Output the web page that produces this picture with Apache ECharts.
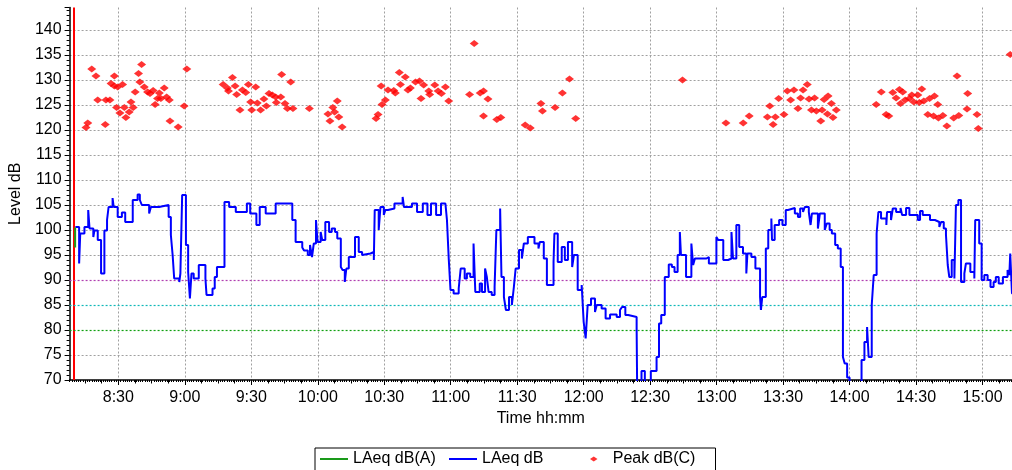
<!DOCTYPE html>
<html>
<head>
<meta charset="utf-8">
<script src="https://cdn.jsdelivr.net/npm/echarts@6/dist/echarts.min.js"></script>
<style>
  html, body { margin: 0; padding: 0; background: #fff; }
  #chart { width: 1012px; height: 470px; }
</style>
</head>
<body>
<div id="chart"></div>
<script>
// Sound level log. Times are minutes after 08:00, levels in dB.
const timeTicks = ['8:30', '9:00', '9:30', '10:00', '10:30', '11:00', '11:30',
  '12:00', '12:30', '13:00', '13:30', '14:00', '14:30', '15:00'];

// Limit levels marked across the plot
const limitLevels = [80, 85, 90];
const limitColors = ['#10a010', '#10b8b8', '#b040b0'];

// Cursor position at the start of the log
const cursorTime = 10.1;

// LAeq dB(A): only the first sample is visible
const laeqA = [[10.5, 96.5], [10.5, 100.5]];

// LAeq dB: each pair is [start minute, level held until next pair]
const laeq = [
  [10.6,100.6],[12.3,93.3],[12.8,99.3],[14.7,100.6],[16.4,104],[17.0,100.3],[18.7,98.6],[19.2,99.9],
  [20.7,98],[22.2,91.3],[23.7,99.9],[24.9,102],[25.6,104.6],[27.4,106.4],[27.9,104.6],[29.7,102.6],
  [31.6,103.5],[33.1,101.6],[36.5,106],[38.7,107.1],[39.7,106],[40.6,105],[43.9,103.3],[44.7,104.6],
  [48.4,105],[52.7,102.6],[53.7,99],[54.5,95],[55.2,90.3],[57.5,89.6],[58.0,91.3],[58.8,107],
  [60.5,97],[61.5,91.6],[62.3,86.3],[63.0,91.3],[64.0,90.3],[66.3,93],[69.3,90.3],[69.8,87],
  [72.5,88.3],[73.5,90.6],[74.5,92.6],[77.9,105.6],[80.0,104.6],[83.0,103.6],[88.0,105.3],[89.5,103.3],
  [92.3,101],[93.8,104.6],[96.5,103.3],[101.0,105.3],[108.5,102],[110.0,97.6],[113.0,96.5],[113.8,95.9],
  [115.5,95],[116.5,97],[117.4,94.6],[118.2,97.3],[119.2,102],[119.9,97.6],[121.3,99.6],[122.0,98],
  [123.4,101.6],[125.1,99.6],[126.3,100.3],[127.8,99.6],[128.8,98.3],[130.4,92.6],[131.2,92],[132.2,89.6],
  [132.9,92.3],[134.0,94.6],[136.8,98.6],[138.5,95.6],[140.0,95],[140.8,95.3],[143.8,95.6],[145.3,94],
  [145.7,104],[147.5,100],[148.3,104.6],[149.8,103],[150.5,104],[151.7,104.3],[154.6,105.3],[158.3,106.6],
  [158.9,104.6],[162.5,105.3],[164.8,103.6],[167.4,105.3],[169.5,103],[171.1,105.3],[173.4,103],[175.6,105.3],
  [177.6,105.6],[178.3,102],[179.1,94.3],[179.9,88],[181.3,87.3],[183.6,88.3],[184.5,92.3],[186.3,90.3],
  [187.3,91.3],[188.8,90.6],[190.3,97.3],[191.1,87.6],[193.1,89.3],[194.1,87.6],[195.5,92.3],[196.3,90.6],
  [197.1,87.6],[198.5,87],[199.8,88.6],[200.6,100],[202.3,104.3],[202.9,90.6],[204.0,86.6],[204.9,84],
  [206.3,86.6],[207.6,85],[208.5,88.6],[209.3,92.3],[210.8,96],[212.1,94.3],[213.0,97.3],[214.8,98.6],
  [217.8,97.3],[219.6,96.3],[220.2,97.6],[222.0,94.3],[223.4,89],[226.4,93.6],[226.8,99.3],[228.3,93.6],
  [230.1,96.6],[231.5,94],[232.9,97.6],[234.8,92.6],[235.6,95],[237.3,88],[239.1,89],[240.0,81.6],
  [240.9,78.3],[241.8,85],[243.3,86.3],[245.1,83.6],[245.9,85],[248.1,84.3],[249.9,82.3],[251.9,83.1],
  [254.9,82.6],[256.4,84],[257.3,84.6],[258.8,83],[260.1,82.6],[263.9,80.3],[264.2,65],[266.1,71.8],
  [267.6,65],[270.3,71.8],[272.9,74.6],[274.0,81.3],[275.0,83],[276.6,90.6],[278.4,93.1],[279.8,92.6],
  [281.0,91.6],[282.4,95],[283.4,99.6],[283.9,95],[286.2,90.6],[288.6,97.3],[289.4,93],[290.2,94.3],
  [295.4,94.6],[296.5,93.3],[299.9,98.6],[300.7,98],[303.0,94],[305.2,94.3],[306.7,99.6],[307.4,94.3],
  [308.9,101],[310.2,96.6],[311.9,95.3],[313.4,91.3],[313.9,95.3],[315.7,94.6],[317.5,92.3],[319.6,86.6],
  [320.0,84],[320.6,86.6],[322.2,96.3],[323.3,100],[324.7,102.3],[325.0,98],[326.2,101],[328.2,102],
  [329.7,101],[331.2,104],[332.2,104.4],[335.3,103.3],[336.7,102.6],[337.7,104.3],[339.0,103.6],[339.8,104.6],
  [341.6,103.6],[342.4,101],[343.0,103.3],[345.7,100.3],[346.6,103.3],[348.8,100],[349.7,101.3],[351.0,100],
  [352.0,99.3],[353.5,97],[354.7,96.3],[356.0,92.6],[357.0,74.6],[357.8,73.3],[358.9,70.5],[360.0,65],
  [365.4,74],[366.7,77.6],[367.9,80.6],[368.6,74.6],[370.0,85],[370.9,91],[372.2,99.3],[373.0,103.6],
  [374.2,102.3],[376.6,101],[376.9,103.6],[378.7,102],[379.5,104.3],[381.0,103.6],[383.0,104.4],[383.7,103],
  [385.5,104.4],[387.0,103],[390.8,102],[391.8,103.8],[393.0,103],[396.3,102],[398.5,101.6],[400.5,100.6],
  [401.3,101.6],[402.5,100.3],[403.5,99],[404.3,93],[405.0,90.6],[406.1,94],[407.3,90.3],[408.0,105],
  [409.1,106],[410.3,89.6],[411.8,91.3],[412.5,93.3],[414.5,91.6],[416.3,90.3],[416.7,102],[418.5,97.3],
  [419.6,90],[420.8,91],[422.3,90],[423.6,88.6],[425.0,89.6],[426.0,90.6],[427.3,89.3],[429.2,90.6],
  [431.3,92],[432.1,91],[432.5,95.3],[433.3,87.3],[433.7,87.3]
];

// Peak dB(C) samples: [minute, level]
const peakC = [
  [15.4,120.5],[16.2,121.4],[18.0,132.2],[19.9,130.8],[20.7,126.0],[24.1,121.1],[24.4,126.0],[26.2,126.0],
  [26.7,129.3],[28.2,130.8],[28.2,128.8],[29.2,124.5],[29.7,128.6],[30.7,123.4],[31.9,129.1],[32.7,124.5],
  [33.4,122.5],[34.9,123.6],[35.7,125.6],[36.7,124.5],[37.6,127.6],[39.1,131.3],[39.7,129.6],[40.5,133.1],
  [41.7,128.6],[43.2,127.6],[44.3,127.3],[45.7,127.9],[46.6,125.1],[47.7,126.3],[48.5,127.4],[49.2,126.3],
  [50.7,128.4],[51.8,126.6],[53.0,126.0],[53.3,121.8],[57.0,120.6],[59.7,124.8],[60.9,132.2],
  [77.3,129.1],[79.2,128.4],[79.7,127.8],[81.5,130.5],[82.7,128.8],[83.4,127.1],[84.9,124.0],[86.0,128.0],
  [87.5,127.5],[88.7,129.1],[89.7,125.6],[90.2,124.0],[92.0,128.6],[92.7,125.4],[94.2,124.0],[95.7,126.2],
  [96.8,124.8],[98.0,127.3],[99.5,127.0],[101.0,126.6],[101.3,125.5],[103.3,126.6],[103.7,131.1],[105.2,125.3],
  [106.3,124.3],[107.8,129.6],[108.8,124.3],[116.2,124.3],
  [124.6,123.2],[125.5,121.8],[126.8,124.5],[127.6,123.6],[128.8,125.8],[129.5,122.6],[131.0,120.6],
  [146.3,122.3],[147.2,123.1],[148.6,128.8],[149.0,125.1],[150.5,126.0],[151.7,128.0],[154.3,127.9],[155.0,127.4],
  [156.8,131.5],[157.3,129.1],[159.5,130.6],[160.7,128.0],[161.8,128.4],[164.1,129.6],[165.9,129.8],[166.6,126.3],
  [167.8,129.0],[170.1,127.8],[170.5,127.1],[172.8,129.0],[174.3,127.8],[175.8,127.3],[177.6,128.6],[179.1,125.8],
  [188.5,127.1],[190.6,137.3],[193.3,127.4],[194.8,127.8],[194.8,122.8],[196.8,126.2],[200.8,122.1],[202.6,122.5],
  [213.6,121.0],[215.9,120.4],[220.7,125.3],[221.4,123.8],[227.1,124.5],[230.4,127.4],[233.6,130.2],[236.4,122.3],
  [284.6,130.0],
  [304.2,121.4],[312.0,121.4],[314.7,122.8],[322.9,122.6],[324.0,124.8],[325.5,121.1],[326.5,122.6],[328.0,126.3],
  [330.4,123.1],[331.9,127.8],[333.4,126.0],[334.9,128.0],[336.7,124.3],[337.9,126.4],[339.0,128.0],[340.9,129.1],
  [341.7,126.2],[342.8,124.0],[344.2,126.4],[345.0,123.8],[347.0,121.8],[347.6,124.0],[348.5,126.1],[350.0,123.2],
  [350.3,126.8],[351.8,125.3],[352.5,122.5],[354.0,124.0],
  [372.0,125.1],[374.3,127.6],[376.5,123.1],[377.7,122.8],[379.5,127.5],[381.0,126.4],[382.5,128.1],[383.0,125.3],
  [384.0,127.6],[385.1,126.0],[387.0,126.3],[388.1,127.0],[389.0,125.6],[390.8,127.0],[391.5,125.5],[392.6,128.2],
  [393.5,125.8],[395.3,123.1],[396.1,126.3],[397.9,122.8],[398.3,126.8],[399.8,125.1],[400.1,122.4],[402.1,122.9],
  [403.9,120.8],[407.0,122.4],[408.5,130.8],[409.3,122.9],[413.0,124.2],[413.3,127.3],[417.5,123.1],[418.1,120.3],
  [432.5,135.1]
];

const FONT = '"Liberation Sans", Arial, sans-serif';
const X_MIN = 8, X_MAX = 433.3;

function clockToMinutes(s) {
  const [h, m] = s.split(':').map(Number);
  return (h - 8) * 60 + m;
}
function minutesToClock(v) {
  const total = 480 + Math.round(v);
  const h = Math.floor(total / 60), m = total % 60;
  return h + ':' + (m < 10 ? '0' : '') + m;
}

const labelValues = timeTicks.map(clockToMinutes);
const quarterTicks = [];
for (let v = 15; v < X_MAX; v += 7.5) quarterTicks.push(v);

const grey = '#a0a0a0';
const gridDash = [2, 2];
// grey split lines everywhere except at the limit levels (75, 80, 85, 90, 95 ... 140)
const ySplitColors = [grey, 'rgba(0,0,0,0)', 'rgba(0,0,0,0)', 'rgba(0,0,0,0)',
  grey, grey, grey, grey, grey, grey, grey, grey, grey, grey];

const lineIcon = 'path://M0,0H28V2H0Z';
const legendText = { color: '#000', fontSize: 16, fontFamily: FONT };

const chart = echarts.init(document.getElementById('chart'), null, { renderer: 'canvas' });

chart.setOption({
  animation: false,
  backgroundColor: '#fff',
  textStyle: { fontFamily: FONT },
  grid: { left: 67, right: 0, top: 7.5, bottom: 90, containLabel: false },
  xAxis: [
    {
      type: 'value', position: 'bottom', min: X_MIN, max: X_MAX,
      name: 'Time hh:mm', nameLocation: 'middle', nameGap: 31,
      nameTextStyle: { color: '#000', fontSize: 16, fontFamily: FONT },
      axisLine: { show: true, lineStyle: { color: '#000', width: 1.5 } },
      axisTick: { show: true, customValues: labelValues, length: 5, lineStyle: { color: '#000' } },
      axisLabel: { customValues: labelValues, formatter: minutesToClock, color: '#000', fontSize: 16, fontFamily: FONT, margin: 10 },
      splitLine: { show: true, lineStyle: { color: grey, type: gridDash, width: 1 } }
    },
    {
      type: 'value', position: 'bottom', min: X_MIN, max: X_MAX, interval: 1,
      axisLine: { show: false },
      axisTick: { show: true, length: 2, lineStyle: { color: '#000' } },
      axisLabel: { show: false }, splitLine: { show: false }
    },
    {
      type: 'value', position: 'bottom', min: X_MIN, max: X_MAX,
      axisLine: { show: false },
      axisTick: { show: true, customValues: quarterTicks, length: 3.5, lineStyle: { color: '#000' } },
      axisLabel: { show: false }, splitLine: { show: false }
    }
  ],
  yAxis: {
    type: 'value', min: 70, max: 144.5, interval: 5,
    name: 'Level dB', nameLocation: 'middle', nameGap: 36,
    nameTextStyle: { color: '#000', fontSize: 16, fontFamily: FONT },
    axisLine: { show: true, lineStyle: { color: '#000', width: 1.5 } },
    axisTick: { show: true, length: 5, lineStyle: { color: '#000' } },
    minorTick: { show: true, splitNumber: 5, length: 3, lineStyle: { color: '#000' } },
    axisLabel: { color: '#000', fontSize: 16, fontFamily: FONT, margin: 8, showMaxLabel: false },
    splitLine: { show: true, showMinLine: false, showMaxLine: false,
      lineStyle: { color: ySplitColors, type: gridDash, width: 1 } }
  },
  legend: [
    { data: [{ name: 'LAeq dB(A)', icon: lineIcon }], left: 320, top: 451, padding: 0,
      itemWidth: 28, itemHeight: 12, textStyle: legendText },
    { data: [{ name: 'LAeq dB', icon: lineIcon }], left: 449, top: 451, padding: 0,
      itemWidth: 28, itemHeight: 12, textStyle: legendText },
    { data: [{ name: 'Peak dB(C)', icon: 'path://M0,2L3,0L6,2L3,4Z' }], left: 590, top: 451, padding: 0,
      itemWidth: 28, itemHeight: 5, textStyle: legendText }
  ],
  graphic: [
    { type: 'rect', left: 312.5, top: 445.5, shape: { width: 400.5, height: 40 },
      style: { fill: 'none', stroke: '#000', lineWidth: 1 }, silent: true }
  ],
  series: [
    {
      name: 'LAeq dB', type: 'line', data: laeq, step: 'end', symbol: 'none', showSymbol: false,
      lineStyle: { color: '#0000ff', width: 2 }, itemStyle: { color: '#0000ff' }, z: 3,
      markLine: {
        silent: true, symbol: 'none', label: { show: false }, z: 1,
        lineStyle: { color: '#ff0000', width: 2, type: 'solid' },
        data: [{ xAxis: cursorTime }]
      }
    },
    {
      name: 'LAeq dB(A)', type: 'line', data: laeqA, symbol: 'none', showSymbol: false,
      lineStyle: { color: '#1a9a1a', width: 2 }, itemStyle: { color: '#1a9a1a' }, z: 6
    },
    {
      name: 'Peak dB(C)', type: 'scatter', data: peakC, symbol: 'diamond', symbolSize: [9, 7],
      itemStyle: { color: '#ff0000' }, z: 4,
      markLine: {
        silent: true, symbol: 'none', label: { show: false }, z: 1,
        data: limitLevels.map((v, i) => ({
          yAxis: v,
          lineStyle: { color: limitColors[i], width: 1.2, type: gridDash }
        }))
      }
    }
  ]
});
</script>
</body>
</html>
